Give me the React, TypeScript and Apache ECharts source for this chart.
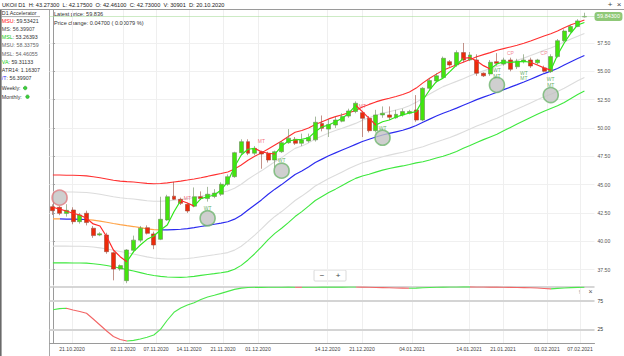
import React, { useEffect, useRef } from 'react';
import * as echarts from 'echarts';

// ---------- categories ----------
const START_DATE = Date.UTC(2020, 9, 16);
const HOLIDAYS = ['25.12.2020', '01.01.2021'];
const N_CANDLES = 80;
function buildDates(): string[] {
  const out: string[] = [];
  let t = START_DATE;
  while (out.length < N_CANDLES) {
    const d = new Date(t);
    const wd = d.getUTCDay();
    const s = `${String(d.getUTCDate()).padStart(2, '0')}.${String(d.getUTCMonth() + 1).padStart(2, '0')}.${d.getUTCFullYear()}`;
    if (wd !== 0 && wd !== 6 && !HOLIDAYS.includes(s)) out.push(s);
    t += 86400000;
  }
  return out;
}
const DATES = buildDates();
const CATEGORIES = [...DATES, ''];

// x-axis tick labels and their positions (in candle-index units)
const TICK_LABELS = ['21.10.2020', '02.11.2020', '07.11.2020', '14.11.2020', '21.11.2020', '01.12.2020', '14.12.2020', '21.12.2020', '04.01.2021', '14.01.2021', '21.01.2021', '01.02.2021', '07.02.2021'];
const TICK_POS = [2.84, 10.43, 15.33, 20.23, 25.29, 30.49, 40.82, 45.95, 53.38, 61.86, 66.9, 73.44, 78.35];
const PRICE_TICKS = [37.5, 40, 42.5, 45, 47.5, 50, 52.5, 55, 57.5];
const OSC_TICKS = [25, 75];

// ---------- candles ----------
const OPEN = [43.05, 43.0, 42.461, 42.76, 41.73, 42.47, 41.15, 40.55, 40.55, 38.99,
  37.55, 36.52, 39.2, 40.1, 41.2, 40.65, 40.17, 41.88, 43.98, 43.7,
  43.26, 43.1, 43.93, 43.77, 43.95, 44.15, 45.03, 45.7, 47.82, 48.79,
  47.77, 47.9, 47.77, 47.17, 47.9, 48.7, 49.0, 48.65, 48.85, 48.95,
  50.4, 49.9, 50.26, 50.6, 51.05, 51.45, 51.35, 50.85, 49.76, 51.15,
  51.15, 50.9, 51.15, 51.3, 51.59, 50.7, 53.5, 54.15, 54.45, 55.85,
  55.56, 56.65, 56.0, 56.0, 54.83, 54.77, 55.85, 55.65, 56.0, 55.4,
  55.85, 56.0, 55.75, 55.3, 54.97, 56.3, 57.7, 58.5, 58.95, 59.8];
const CLOSE = [42.7, 42.47, 42.73, 41.73, 42.32, 41.65, 40.5, 40.66, 39.08, 37.55,
  37.85, 39.23, 40.1, 41.15, 40.7, 39.67, 41.94, 43.93, 43.7, 43.35,
  42.67, 43.93, 43.77, 44.15, 44.25, 45.03, 45.7, 47.82, 48.79, 47.77,
  48.2, 47.7, 47.17, 47.9, 48.7, 49.1, 48.65, 48.94, 49.15, 50.5,
  49.97, 50.3, 50.7, 51.0, 51.5, 52.18, 50.85, 49.76, 51.15, 51.3,
  50.95, 51.2, 51.45, 51.45, 50.7, 53.5, 54.18, 54.6, 56.15, 55.56,
  56.65, 56.0, 56.44, 54.83, 54.6, 55.8, 55.7, 56.0, 55.18, 55.9,
  56.0, 55.47, 56.0, 55.0, 56.3, 57.7, 58.55, 58.95, 59.45, 59.843];
const LOW = [42.32, 42.3, 42.175, 41.5, 41.55, 41.4, 40.3, 40.45, 38.9, 36.55,
  37.4, 36.3, 39.0, 39.9, 40.6, 39.3, 40.1, 41.8, 43.64, 43.2,
  42.5, 43.0, 43.64, 43.5, 43.8, 44.0, 44.9, 45.6, 47.6, 47.6,
  47.6, 46.4, 46.95, 46.5, 47.8, 48.6, 48.5, 48.4, 48.7, 48.8,
  49.7, 49.2, 50.0, 50.5, 50.9, 51.3, 49.2, 49.6, 49.6, 50.9,
  50.7, 50.8, 51.0, 51.2, 50.55, 50.6, 53.4, 54.0, 54.4, 55.4,
  55.4, 55.8, 55.9, 54.6, 54.5, 54.6, 55.5, 55.5, 55.0, 55.2,
  55.7, 55.3, 55.6, 54.9, 54.85, 56.2, 57.6, 58.4, 58.9, 59.75];
const HIGH = [43.26, 43.1, 43.273, 43.0, 42.5, 42.7, 41.35, 40.8, 40.75, 39.1,
  37.95, 39.3, 40.5, 41.35, 41.4, 40.85, 43.93, 44.1, 45.25, 43.85,
  43.4, 44.75, 44.4, 44.8, 44.6, 45.2, 45.9, 47.9, 49.0, 49.0,
  48.4, 48.0, 47.9, 48.0, 48.85, 49.9, 49.2, 49.5, 49.5, 51.0,
  51.1, 50.8, 51.0, 51.3, 51.7, 52.35, 51.5, 51.05, 51.6, 51.9,
  51.9, 51.6, 51.7, 51.6, 52.9, 53.6, 54.4, 54.85, 56.3, 56.0,
  56.85, 57.5, 56.7, 56.5, 54.9, 56.0, 56.6, 56.2, 56.2, 56.1,
  56.5, 56.2, 56.1, 55.5, 56.5, 57.85, 58.7, 59.1, 59.6, 60.17];
const LAST_PRICE = 59.843;

// ---------- channel (MS middle line and outer half-width) ----------
const MID = [41.97, 41.97, 41.96, 41.95, 41.94, 41.92, 41.86, 41.78, 41.68, 41.57,
  41.47, 41.38, 41.3, 41.2, 41.1, 41.03, 41.0, 41.0, 41.03, 41.06,
  41.12, 41.2, 41.3, 41.4, 41.5, 41.6, 41.72, 41.95, 42.3, 42.75,
  43.2, 43.65, 44.15, 44.6, 45.0, 45.45, 45.9, 46.2, 46.55, 46.95,
  47.25, 47.55, 47.8, 48.05, 48.3, 48.55, 48.8, 49.0, 49.2, 49.38,
  49.52, 49.66, 49.8, 49.98, 50.22, 50.5, 50.78, 51.05, 51.3, 51.52,
  51.75, 52.0, 52.25, 52.5, 52.72, 52.93, 53.15, 53.38, 53.6, 53.82,
  54.05, 54.3, 54.55, 54.8, 55.02, 55.25, 55.55, 55.85, 56.13, 56.39907];
const WIDTH = [3.88, 3.88, 3.87, 3.87, 3.86, 3.85, 3.84, 3.83, 3.82, 3.82,
  3.84, 3.88, 3.93, 3.97, 4.01, 4.05, 4.1, 4.15, 4.2, 4.25,
  4.28, 4.3, 4.31, 4.33, 4.36, 4.38, 4.4, 4.42, 4.43, 4.4,
  4.3, 4.15, 4.0, 3.9, 3.85, 3.8, 3.72, 3.58, 3.45, 3.35,
  3.3, 3.25, 3.2, 3.12, 3.05, 3.0, 3.04, 3.08, 3.1, 3.1,
  3.1, 3.12, 3.15, 3.2, 3.3, 3.48, 3.6, 3.7, 3.8, 3.82,
  3.82, 3.8, 3.8, 3.78, 3.75, 3.72, 3.7, 3.62, 3.55, 3.48,
  3.42, 3.38, 3.35, 3.32, 3.3, 3.3, 3.3, 3.25, 3.18, 3.13514];
const INNER_RATIO = 0.618;
const MID_SWITCH = [0, 1, 5, 16];
const MID_COLORS = ['#ffa347', '#2b2bef', '#ffa347', '#2b2bef'];

// ---------- fast line (VA) ----------
const VA = [43.0, 42.83, 42.67, 42.47, 42.32, 42.03, 41.53, 41.35, 40.4, 39.23,
  38.64, 38.2, 39.08, 39.67, 40.17, 40.47, 41.0, 41.44, 42.6, 43.6,
  43.38, 43.1, 43.76, 43.93, 44.08, 44.53, 45.26, 46.58, 47.61, 48.12,
  48.2, 47.9, 47.77, 47.7, 48.4, 48.85, 48.94, 49.0, 49.12, 49.67,
  50.1, 50.26, 50.55, 50.85, 51.3, 52.0, 51.44, 50.85, 50.26, 50.55,
  50.7, 50.97, 51.15, 51.32, 51.44, 52.47, 53.35, 54.08, 54.4, 54.97,
  55.56, 56.15, 56.2, 55.9, 55.5, 55.2, 55.65, 55.83, 55.78, 55.83,
  55.87, 55.8, 55.56, 55.3, 55.1, 56.44, 57.5, 58.38, 59.09, 59.31133];
const VA_SWITCH = [0, 11, 19, 21, 30, 33, 45, 48, 61, 65, 71, 74];

// ---------- signals ----------
const SIGNAL_IDX = [1, 23, 34, 49, 66, 74];
const SIGNAL_VAL = [43.85, 42.03, 46.23, 49.14, 53.8, 52.9];
const SIGNAL_EDGE = ['#e07a80', '#6fb56f', '#6fb56f', '#6fb56f', '#6fb56f', '#6fb56f'];
const MARK_IDX = [20, 31, 46, 23, 34, 49, 66, 66, 70, 70, 74, 74, 68, 73];
const MARK_VAL = [43.85, 48.85, 51.97, 42.96, 47.17, 50.02, 55.12, 54.6, 54.88, 54.44, 54.3, 53.8, 56.6, 56.6];
const MARK_TEXT = ['MT', 'MT', 'MT', 'WT', 'WT', 'WT', 'WT', 'MT', 'WT', 'MT', 'WT', 'MT', 'CP', 'CP'];

// ---------- oscillator ----------
const OSC = [59.5, 61.5, 62.3, 59.1, 56.5, 53.3, 43.2, 32.6, 22.0, 12.3,
  7.0, 4.3, 5.5, 8.0, 11.0, 15.0, 25.0, 41.0, 55.0, 62.5,
  68.0, 72.0, 77.5, 82.0, 85.0, 88.5, 92.0, 95.5, 97.8, 98.8,
  99.2, 99.1, 99.2, 99.3, 99.4, 99.5, 99.3, 99.2, 99.3, 99.4,
  99.5, 99.5, 99.6, 99.6, 99.7, 99.7, 99.5, 99.2, 98.9, 98.6,
  98.3, 98.0, 97.7, 97.4, 97.8, 98.3, 98.8, 99.2, 99.5, 99.7,
  99.8, 99.9, 99.9, 99.8, 99.7, 99.6, 99.5, 99.3, 99.1, 98.9,
  98.6, 98.3, 97.9, 97.2, 96.5, 97.3, 98.0, 98.6, 99.0, 99.3];
const OSC_SWITCH = [0, 2, 11, 36, 37, 45, 53, 62, 74];

const RED = '#ff2a2a';
const GREEN = '#2fe61a';
const FONT = 'Liberation Sans, Arial, sans-serif';

function pieces(bounds: number[], colors: string[]) {
  return bounds.map((b, k) => ({ gte: b, lt: k + 1 < bounds.length ? bounds[k + 1] : 1000, color: colors[k % colors.length] }));
}

function buildOption() {
  const upper = MID.map((m, i) => +(m + WIDTH[i]).toFixed(4));
  const lower = MID.map((m, i) => +(m - WIDTH[i]).toFixed(4));
  const upperIn = MID.map((m, i) => +(m + WIDTH[i] * INNER_RATIO).toFixed(4));
  const lowerIn = MID.map((m, i) => +(m - WIDTH[i] * INNER_RATIO).toFixed(4));
  const candles = OPEN.map((o, i) => [o, CLOSE[i], LOW[i], HIGH[i]]);
  const lineBase = { type: 'line', xAxisIndex: 0, yAxisIndex: 0, symbol: 'none', silent: true };

  const leftRows: { y: number; parts: [string, string][] }[] = [
    { y: 21, parts: [['MSU', '#ff1010'], [': 59.53421', '#333']] },
    { y: 29.3, parts: [['MS: 56.39907', '#444']] },
    { y: 37.3, parts: [['MSL', '#10cc10'], [': 53.26393', '#333']] },
    { y: 45.3, parts: [['MSU: 58.33759', '#666']] },
    { y: 53.7, parts: [['MSL: 54.46055', '#666']] },
    { y: 62, parts: [['VA', '#10cc10'], [': 59.31133', '#333']] },
    { y: 70, parts: [['ATR14: 1.16307', '#333']] },
    { y: 78.3, parts: [['/T', '#2b2bef'], [': 56.39907', '#333']] },
    { y: 88, parts: [['Weekly:', '#333']] },
    { y: 96.7, parts: [['Monthly:', '#333']] },
  ];
  const leftTexts = leftRows.map((r) => {
    const rich: any = {};
    const txt = r.parts.map((p, k) => {
      rich['p' + k] = { fill: p[1], fontSize: 5.3, fontFamily: FONT };
      return `{p${k}|${p[0]}}`;
    }).join('');
    return { type: 'text', x: 1.8, y: r.y, style: { text: txt, rich, fontSize: 5.3, fontFamily: FONT, verticalAlign: 'middle' } };
  });

  return {
    animation: false,
    backgroundColor: '#ffffff',
    textStyle: { fontFamily: FONT },
    grid: [
      { left: 49.5, right: 29.5, top: 10, height: 275 },
      { left: 49.5, right: 29.5, top: 286.85, height: 56.6 },
    ],
    xAxis: [
      { type: 'category', gridIndex: 0, data: CATEGORIES, boundaryGap: true, axisLine: { show: false }, axisTick: { show: false }, axisLabel: { show: false }, splitLine: { show: false } },
      { type: 'category', gridIndex: 1, data: CATEGORIES, boundaryGap: true, axisLine: { show: false }, axisTick: { show: false }, axisLabel: { show: false }, splitLine: { show: false } },
      {
        type: 'value', gridIndex: 0, min: -0.5, max: 80.5, axisLine: { show: false }, axisLabel: { show: false },
        axisTick: { show: false, customValues: TICK_POS }, splitLine: { show: true, lineStyle: { color: '#efefef', width: 1 } },
      },
      {
        type: 'value', gridIndex: 1, min: -0.5, max: 80.5, position: 'bottom',
        axisLine: { show: true, onZero: false, lineStyle: { color: '#9a9a9a', width: 1 } },
        axisTick: { show: false, customValues: TICK_POS },
        axisLabel: {
          show: true, customValues: TICK_POS, fontSize: 5.1, color: '#444', margin: 3, fontFamily: FONT,
          formatter: (v: number) => { const k = TICK_POS.findIndex((p) => Math.abs(p - v) < 1e-6); return k >= 0 ? TICK_LABELS[k] : ''; },
        },
        splitLine: { show: true, lineStyle: { color: '#efefef', width: 1 } },
      },
    ],
    yAxis: [
      {
        type: 'value', gridIndex: 0, position: 'right', min: 36.14, max: 60.41, scale: true,
        axisLine: { show: true, lineStyle: { color: '#9a9a9a' } },
        axisTick: { show: true, length: 2, customValues: PRICE_TICKS, lineStyle: { color: '#9a9a9a' } },
        axisLabel: { show: true, customValues: PRICE_TICKS, fontSize: 5.1, color: '#555', margin: 3, formatter: (v: number) => v.toFixed(2), fontFamily: FONT },
        splitLine: { show: true, lineStyle: { color: '#f0f0f0' } },
      },
      {
        type: 'value', gridIndex: 1, position: 'right', min: 0, max: 100,
        axisLine: { show: true, lineStyle: { color: '#9a9a9a' } },
        axisTick: { show: true, length: 2, customValues: OSC_TICKS, lineStyle: { color: '#9a9a9a' } },
        axisLabel: { show: true, customValues: OSC_TICKS, fontSize: 5.1, color: '#333', margin: 3, fontFamily: FONT },
        splitLine: { show: false },
      },
    ],
    visualMap: [
      { type: 'piecewise', show: false, dimension: 0, seriesIndex: 4, pieces: pieces(MID_SWITCH, MID_COLORS) },
      { type: 'piecewise', show: false, dimension: 0, seriesIndex: 6, pieces: pieces(VA_SWITCH, [RED, GREEN]) },
      { type: 'piecewise', show: false, dimension: 0, seriesIndex: 9, pieces: pieces(OSC_SWITCH, ['#4be84b', '#f26565']) },
    ],
    series: [
      { ...lineBase, name: 'MSU', data: upper, lineStyle: { color: '#ff3030', width: 1.1 }, z: 2 },
      { ...lineBase, name: 'MSU2', data: upperIn, lineStyle: { color: '#dcdcdc', width: 1.1 }, z: 2 },
      { ...lineBase, name: 'MSL2', data: lowerIn, lineStyle: { color: '#dcdcdc', width: 1.1 }, z: 2 },
      { ...lineBase, name: 'MSL', data: lower, lineStyle: { color: '#3ee83e', width: 1.1 }, z: 2 },
      { ...lineBase, name: 'MS', data: MID, lineStyle: { width: 1.2 }, z: 3 },
      {
        type: 'candlestick', name: 'UKOil', xAxisIndex: 0, yAxisIndex: 0, data: candles, barWidth: '66%', silent: true, z: 4,
        itemStyle: { color: '#44e40c', color0: '#ee2a0a', borderColor: '#6a8a5a', borderColor0: '#9a4a3a', borderWidth: 0.6 },
        markLine: {
          silent: true, symbol: 'none', animation: false,
          data: [{ yAxis: LAST_PRICE }],
          lineStyle: { color: '#9bd68a', type: 'dotted', width: 1 },
          label: {
            show: true, position: 'end', distance: 0, formatter: LAST_PRICE.toFixed(5), color: '#fff', fontSize: 5.5,
            backgroundColor: '#8fc878', padding: [1.5, 2.5], borderRadius: 3, fontFamily: FONT,
          },
        },
      },
      { ...lineBase, name: 'VA', data: VA, lineStyle: { width: 1.2 }, z: 5 },
      {
        type: 'scatter', name: 'signals', xAxisIndex: 0, yAxisIndex: 0, silent: true, z: 6, symbolSize: 15,
        data: SIGNAL_IDX.map((i, k) => ({ value: [i, SIGNAL_VAL[k]], itemStyle: { color: '#c3c3c3', borderColor: SIGNAL_EDGE[k], borderWidth: 1.6 } })),
      },
      {
        type: 'scatter', name: 'marks', xAxisIndex: 0, yAxisIndex: 0, silent: true, z: 7, symbolSize: 0.1,
        itemStyle: { color: 'rgba(0,0,0,0)' },
        data: MARK_IDX.map((i, k) => ({
          value: [i, MARK_VAL[k]], name: MARK_TEXT[k],
          label: { show: true, position: 'inside', formatter: MARK_TEXT[k], fontSize: 5, fontFamily: FONT, color: MARK_TEXT[k] === 'WT' ? '#3a9a3a' : (MARK_TEXT[k] === 'CP' ? '#f06a7a' : (k >= 6 ? '#3a9a3a' : '#f05060')) },
        })),
      },
      {
        type: 'line', name: 'OSC', xAxisIndex: 1, yAxisIndex: 1, data: OSC, symbol: 'none', silent: true, z: 5, lineStyle: { width: 1.1 },
        markLine: {
          silent: true, symbol: 'none', animation: false, label: { show: false },
          data: [{ yAxis: 75, lineStyle: { color: '#d4d4d4', width: 1.8, type: 'solid' } }, { yAxis: 25, lineStyle: { color: '#d4d4d4', width: 1.8, type: 'solid' } }, { yAxis: 100, lineStyle: { color: '#c8c8c8', width: 1.5, type: 'solid' } }],
        },
      },
    ],
    graphic: [
      { type: 'line', shape: { x1: 0, y1: 9.5, x2: 624, y2: 9.5 }, style: { stroke: '#9a9a9a', lineWidth: 1 }, silent: true },
      { type: 'rect', shape: { x: 0, y: 10, width: 1.6, height: 346 }, style: { fill: '#6a6a6a' }, silent: true },
      { type: 'line', shape: { x1: 49.5, y1: 10, x2: 49.5, y2: 356 }, style: { stroke: '#a8a8a8', lineWidth: 1 }, silent: true },
      { type: 'text', x: 2, y: 4.6, style: { text: 'UKOil D1  H: 43.27300  L: 42.17500  O: 42.46100  C: 42.73000  V: 30901  D: 20.10.2020', fontSize: 5.65, fill: '#222', fontFamily: FONT, verticalAlign: 'middle' }, silent: true },
      { type: 'text', x: 610, y: 4.8, style: { text: '+', fontSize: 8, fill: '#444', fontFamily: FONT, verticalAlign: 'middle', align: 'center' }, silent: true },
      { type: 'text', x: 619, y: 4.8, style: { text: '×', fontSize: 8, fill: '#444', fontFamily: FONT, verticalAlign: 'middle', align: 'center' }, silent: true },
      { type: 'text', x: 1.8, y: 13.3, style: { text: 'D1 Accelerator', fontSize: 5.3, fill: '#333', fontFamily: FONT, verticalAlign: 'middle' }, silent: true },
      { type: 'line', shape: { x1: 1.8, y1: 16.6, x2: 40, y2: 16.6 }, style: { stroke: '#555', lineWidth: 0.5 }, silent: true },
      ...leftTexts,
      { type: 'circle', shape: { cx: 25.2, cy: 88, r: 1.8 }, style: { fill: '#3ad13a', stroke: '#1f8f1f', lineWidth: 0.5 }, silent: true },
      { type: 'circle', shape: { cx: 27.5, cy: 96.7, r: 1.8 }, style: { fill: '#3ad13a', stroke: '#1f8f1f', lineWidth: 0.5 }, silent: true },
      { type: 'text', x: 54, y: 14, style: { text: 'Latest price: 59.836', fontSize: 5.6, fill: '#333', fontFamily: FONT, verticalAlign: 'middle' }, silent: true },
      { type: 'text', x: 54, y: 22.6, style: { text: 'Price change: 0.04700 ( 0.00079 %)', fontSize: 5.6, fill: '#333', fontFamily: FONT, verticalAlign: 'middle' }, silent: true },
      { type: 'rect', shape: { x: 314, y: 270, width: 32, height: 11, r: 1 }, style: { fill: '#ffffff', stroke: '#d0d0d0', lineWidth: 0.8 }, silent: true },
      { type: 'text', x: 322, y: 275.5, style: { text: '−', fontSize: 8, fill: '#444', fontFamily: FONT, verticalAlign: 'middle', align: 'center' }, silent: true },
      { type: 'text', x: 338, y: 275.5, style: { text: '+', fontSize: 8, fill: '#444', fontFamily: FONT, verticalAlign: 'middle', align: 'center' }, silent: true },
      { type: 'text', x: 579.5, y: 291.8, style: { text: '↑', fontSize: 6.5, fill: '#777', fontFamily: FONT, verticalAlign: 'middle', align: 'center' }, silent: true },
      { type: 'text', x: 590.5, y: 291.8, style: { text: '×', fontSize: 7, fill: '#555', fontFamily: FONT, verticalAlign: 'middle', align: 'center' }, silent: true },
    ],
  };
}

export default function App() {
  const ref = useRef<HTMLDivElement>(null);
  useEffect(() => {
    if (!ref.current) return;
    const chart = echarts.init(ref.current, null, { renderer: 'svg' });
    chart.setOption(buildOption() as any);
    return () => chart.dispose();
  }, []);
  return <div ref={ref} style={{ position: 'fixed', left: 0, top: 0, width: 624, height: 356, background: '#fff' }} />;
}
